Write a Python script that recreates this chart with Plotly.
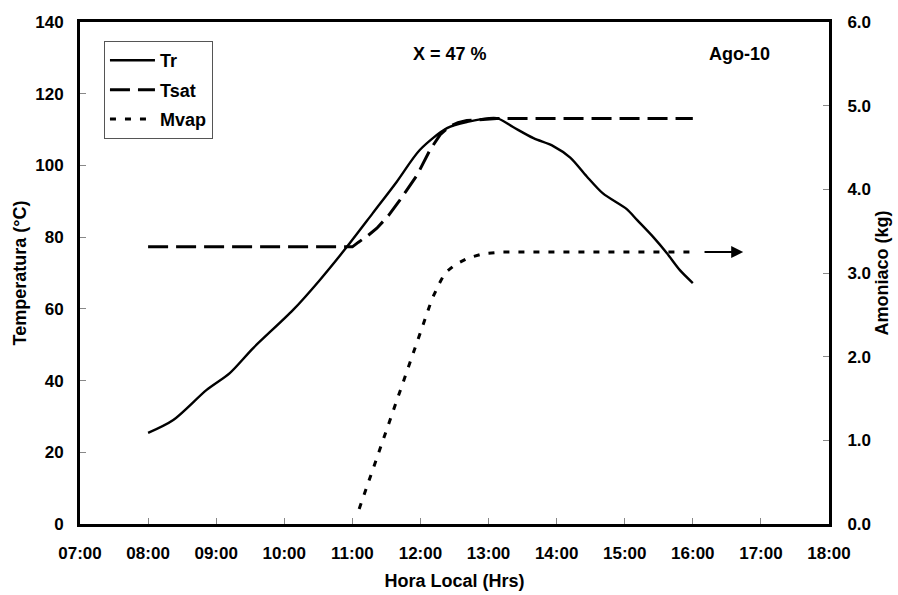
import plotly.graph_objects as go

# ---- data (hours as decimal) ----
tr_hours = [8.00, 8.37, 8.86, 9.20, 9.54, 10.13, 10.52, 10.92, 11.30, 11.65, 11.99,
            12.39, 12.68, 13.12, 13.36, 13.66, 13.95, 14.20, 14.44, 14.68, 15.03,
            15.18, 15.42, 15.62, 15.81, 16.00]
tr_temp = [25.4, 29.0, 37.4, 42.1, 49.0, 59.7, 68.0, 77.3, 86.7, 95.4, 104.3,
           110.4, 112.1, 113.2, 110.7, 107.6, 105.4, 102.2, 97.0, 92.2, 87.8,
           84.8, 80.0, 75.5, 70.8, 67.2]

tsat_hours = [8.00, 11.00, 11.09, 11.22, 11.36, 11.53, 11.70, 11.95, 12.14, 12.29, 12.43,
              12.55, 12.68, 12.90, 13.12, 16.00]
tsat_temp = [77.3, 77.3, 78.6, 80.3, 82.5, 86.0, 90.4, 97.3, 104.3, 108.6, 110.9,
             111.9, 112.5, 112.9, 113.1, 113.1]

mvap_hours = [11.10, 12.17, 12.28, 12.36, 12.51, 12.70, 12.92, 13.20, 16.00]
mvap_kg = [0.18, 2.69, 2.88, 3.00, 3.10, 3.18, 3.23, 3.25, 3.25]

x_tickvals = [7, 8, 9, 10, 11, 12, 13, 14, 15, 16, 17, 18]
x_ticktext = ["07:00", "08:00", "09:00", "10:00", "11:00", "12:00", "13:00",
              "14:00", "15:00", "16:00", "17:00", "18:00"]
y_tickvals = [0, 20, 40, 60, 80, 100, 120, 140]
y_ticktext = ["0", "20", "40", "60", "80", "100", "120", "140"]
y2_tickvals = [0, 1, 2, 3, 4, 5, 6]
y2_ticktext = ["0.0", "1.0", "2.0", "3.0", "4.0", "5.0", "6.0"]

arrow_start_h = 16.15
arrow_end_h = 16.74
arrow_kg = 3.25

FONT = "Arial, Liberation Sans, sans-serif"
BOLD = lambda s: dict(family=FONT, size=s, color="black", weight="bold")
b = lambda lst: ["<b>%s</b>" % t for t in lst]

fig = go.Figure()
fig.add_trace(go.Scatter(x=tr_hours, y=tr_temp, name="<b>Tr</b>", mode="lines", legendgroup="a",
                         line=dict(color="black", width=2.4, shape="spline", smoothing=0.8)))
fig.add_trace(go.Scatter(x=tsat_hours, y=tsat_temp, name="<b>Tsat</b>", mode="lines", legendgroup="b",
                         line=dict(color="black", width=3, dash="20px,8px")))
fig.add_trace(go.Scatter(x=mvap_hours, y=mvap_kg, name="<b>Mvap</b>", mode="lines", yaxis="y2",
                         legendgroup="c",
                         line=dict(color="black", width=3, dash="6px,9px")))

fig.add_annotation(x=arrow_end_h, y=arrow_kg, ax=arrow_start_h, ay=arrow_kg,
                   xref="x", yref="y2", axref="x", ayref="y2",
                   showarrow=True, arrowhead=2, arrowsize=1.2, arrowwidth=2,
                   arrowcolor="black", text="")

fig.add_annotation(x=0.494, y=0.96, xref="paper", yref="paper", text="<b>X = 47 %</b>",
                   showarrow=False, font=BOLD(18))
fig.add_annotation(x=0.924, y=0.96, xref="paper", yref="paper", text="<b>Ago-10</b>",
                   showarrow=False, font=BOLD(18))

axis_common = dict(ticks="inside", ticklen=6, tickcolor="#888888", tickwidth=1,
                   showline=True, linecolor="black", linewidth=3,
                   showgrid=False, zeroline=False, automargin=False,
                   tickfont=BOLD(17))

fig.update_layout(
    width=898, height=595,
    margin=dict(l=80, r=69, t=22, b=71),
    paper_bgcolor="white", plot_bgcolor="white",
    font=dict(family=FONT, size=14, color="black"),
    showlegend=True,
    legend=dict(x=0.032, y=0.962, xanchor="left", yanchor="top",
                bgcolor="white", bordercolor="#555555", borderwidth=1,
                font=BOLD(18), traceorder="grouped", tracegroupgap=3, itemwidth=45),
    xaxis=dict(range=[7, 18], tickvals=x_tickvals, ticktext=b(x_ticktext), mirror=True,
               ticklabelstandoff=12,
               title=dict(text="<b>Hora Local (Hrs)</b>", standoff=12, font=BOLD(18)),
               **axis_common),
    yaxis=dict(range=[0, 140], tickvals=y_tickvals, ticktext=b(y_ticktext), mirror=True,
               ticklabelstandoff=10,
               title=dict(text="<b>Temperatura (°C)</b>", standoff=4, font=BOLD(18)),
               **axis_common),
    yaxis2=dict(range=[0, 6], overlaying="y", side="right",
                tickvals=y2_tickvals, ticktext=b(y2_ticktext), ticklabelstandoff=12,
                title=dict(text="<b>Amoniaco (kg)</b>", standoff=6, font=BOLD(18)),
                **axis_common),
)

fig.write_html("out.html")
